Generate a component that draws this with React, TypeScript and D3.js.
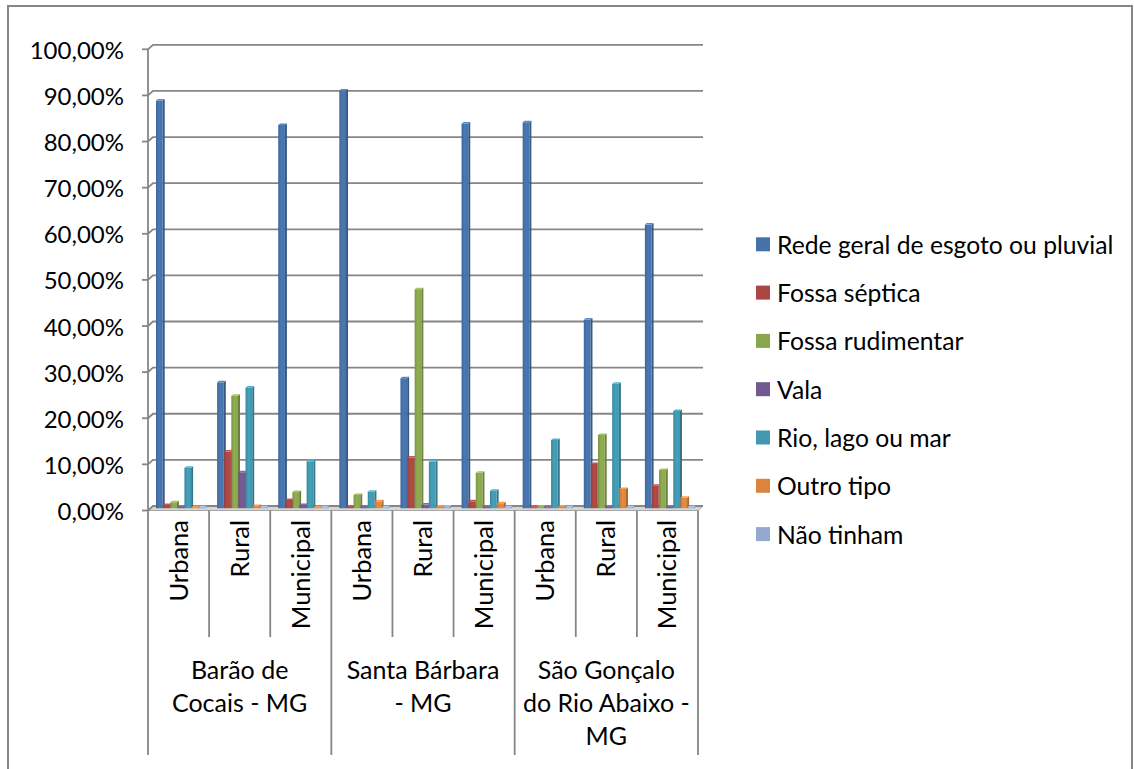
import * as d3 from "d3";

const SERIES = [
  "Rede geral de esgoto ou pluvial",
  "Fossa séptica",
  "Fossa rudimentar",
  "Vala",
  "Rio, lago ou mar",
  "Outro tipo",
  "Não tinham",
];
const COLORS = ["#4672AA", "#AA4643", "#89A54E", "#71588F", "#4198AF", "#DB843D", "#93A9CF"];

const AREAS = ["Urbana", "Rural", "Municipal"];
const CITY_LINES = [
  ["Barão de", "Cocais - MG"],
  ["Santa Bárbara", "- MG"],
  ["São Gonçalo", "do Rio Abaixo -", "MG"],
];

// percentages, 9 columns: Barão (U, R, M), Santa Bárbara (U, R, M), São Gonçalo (U, R, M)
const REDE = [88.4, 27.3, 83.1, 90.6, 28.2, 83.4, 83.7, 40.9, 61.5];
const FOSSA_SEPTICA = [0.7, 12.3, 1.8, 0.3, 11.0, 1.5, 0.1, 9.6, 4.9];
const FOSSA_RUDIMENTAR = [1.3, 24.4, 3.5, 2.9, 47.5, 7.7, 0.3, 15.9, 8.3];
const VALA = [0.3, 7.8, 0.7, 0.3, 0.8, 0.3, 0.1, 0.3, 0.3];
const RIO = [8.8, 26.2, 10.2, 3.6, 10.1, 3.8, 14.8, 27.0, 21.1];
const OUTRO = [0.2, 0.5, 0.2, 1.5, 0.4, 1.1, 0.4, 4.2, 2.3];
const NAO_TINHAM = [0.1, 0.2, 0.1, 0.1, 0.3, 0.1, 0.1, 0.2, 0.1];

const VALUES = [REDE, FOSSA_SEPTICA, FOSSA_RUDIMENTAR, VALA, RIO, OUTRO, NAO_TINHAM];
const Y_TICKS = [0, 10, 20, 30, 40, 50, 60, 70, 80, 90, 100];

const FONT = "Lato, 'Open Sans', sans-serif";
const GRID = "#868686";

export default function App() {
  const W = 1134;
  const H = 769;
  const x0 = 148;
  const x1 = 698;
  // back wall offset (3D depth)
  const DX = 5;
  const DY = -4.5;

  const yFront = d3.scaleLinear().domain([0, 100]).range([510.5, 49.3]);
  const yBar = (v: number) => yFront(v) + DY / 2;

  const cats = d3.range(9);
  const xCat = d3.scaleBand<number>().domain(cats).range([x0, x1]).padding(0);
  const cw = xCat.bandwidth();
  const xSer = d3.scaleBand<number>().domain(d3.range(SERIES.length)).range([5.5, 5.5 + 7 * 7.1]).padding(0);
  const bw = xSer.bandwidth();

  const fmt = (v: number) => v.toFixed(2).replace(".", ",") + "%";

  const bars: JSX.Element[] = [];
  cats.forEach((c) => {
    SERIES.forEach((_, s) => {
      const v = VALUES[s][c];
      const bx = (xCat(c) as number) + DX / 2 + (xSer(s) as number);
      const yb = yBar(0);
      const yt = Math.min(yBar(v), yb - 1);
      const w = bw - 0.4;
      const dd = 2;
      const dh = 1.5;
      const col = d3.color(COLORS[s])!;
      const dark = col.darker(0.7).formatHex();
      const light = col.brighter(0.5).formatHex();
      bars.push(
        <g key={`${c}-${s}`}>
          <polygon
            points={`${bx + w},${yt} ${bx + w + dd},${yt - dh} ${bx + w + dd},${yb - dh} ${bx + w},${yb}`}
            fill={dark}
          />
          <rect x={bx} y={yt} width={w} height={yb - yt} fill={`url(#grad${s})`} />
          <polygon
            points={`${bx},${yt} ${bx + w},${yt} ${bx + w + dd},${yt - dh} ${bx + dd},${yt - dh}`}
            fill={light}
          />
        </g>
      );
    });
  });

  return (
    <svg
      width={W}
      height={H}
      style={{ position: "absolute", left: 0, top: 0, background: "#fff" }}
      fontFamily={FONT}
    >
      <defs>
        {COLORS.map((c, i) => {
          const col = d3.color(c)!;
          return (
            <linearGradient key={i} id={`grad${i}`} x1="0" x2="1" y1="0" y2="0">
              <stop offset="0%" stopColor={col.darker(0.3).formatHex()} />
              <stop offset="45%" stopColor={col.brighter(0.15).formatHex()} />
              <stop offset="100%" stopColor={c} />
            </linearGradient>
          );
        })}
      </defs>
      <rect x={8} y={6} width={1124} height={800} fill="#fff" stroke={GRID} strokeWidth={2} />

      {/* floor */}
      <polygon
        points={`${x0},${yFront(0)} ${x1},${yFront(0)} ${x1 + DX},${yFront(0) + DY} ${x0 + DX},${yFront(0) + DY}`}
        fill="#d6d6d6"
        stroke="#a6a6a6"
        strokeWidth={1}
      />

      {/* gridlines on back wall + ticks */}
      {Y_TICKS.map((t) => {
        const y = yFront(t);
        return (
          <g key={t} stroke={GRID} strokeWidth={1.8} fill="none">
            <line x1={x0 - 6} x2={x0} y1={y} y2={y} />
            <polyline points={`${x0},${y} ${x0 + DX},${y + DY} ${x1 + DX},${y + DY}`} />
          </g>
        );
      })}
      <line x1={x0} x2={x0} y1={yFront(100)} y2={yFront(0)} stroke={GRID} strokeWidth={1.8} />

      {bars}

      {/* y labels */}
      {Y_TICKS.map((t) => (
        <text key={t} x={124} y={yFront(t)} textAnchor="end" dominantBaseline="central" fontSize={24} fill="#000">
          {fmt(t)}
        </text>
      ))}

      {/* category axis dividers */}
      {d3.range(10).map((k) => {
        const x = x0 + cw * k;
        return (
          <line
            key={k}
            x1={x}
            x2={x}
            y1={yFront(0)}
            y2={k % 3 === 0 ? 755 : 637}
            stroke={GRID}
            strokeWidth={1.8}
          />
        );
      })}

      {/* category labels */}
      {cats.map((c) => {
        const cx = (xCat(c) as number) + cw / 2 - 1;
        return (
          <text
            key={c}
            transform={`translate(${cx},520) rotate(-90)`}
            textAnchor="end"
            dominantBaseline="central"
            fontSize={25.5}
            fill="#000"
          >
            {AREAS[c % 3]}
          </text>
        );
      })}

      {/* city labels */}
      {CITY_LINES.map((lines, g) => {
        const cx = x0 + cw * (g * 3 + 1.5);
        return (
          <text key={g} textAnchor="middle" fontSize={25} fill="#000">
            {lines.map((l, i) => (
              <tspan key={i} x={cx} y={679 + i * 33}>
                {l}
              </tspan>
            ))}
          </text>
        );
      })}

      {/* legend */}
      {SERIES.map((s, i) => {
        const cy = 244.3 + i * 48.3;
        return (
          <g key={s}>
            <rect x={756} y={cy - 7} width={14} height={14} fill={COLORS[i]} />
            <text x={777} y={cy} dominantBaseline="central" fontSize={24.7} fill="#000">
              {s}
            </text>
          </g>
        );
      })}
    </svg>
  );
}
